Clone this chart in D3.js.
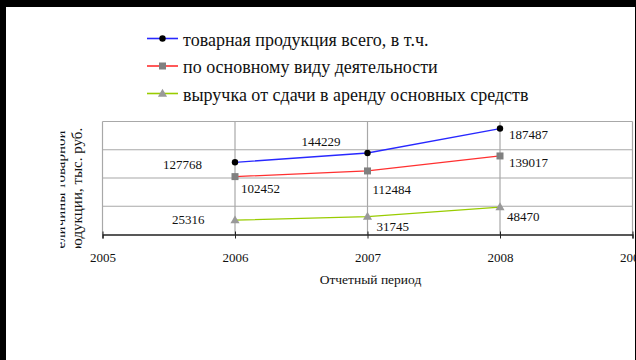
<!DOCTYPE html>
<html><head><meta charset="utf-8">
<script src="https://cdn.jsdelivr.net/npm/d3@7"></script>
<style>html,body{margin:0;padding:0;background:#000;}svg{display:block;}</style>
</head><body>
<script>
const years = [2006, 2007, 2008];
const seriesNames = ["товарная продукция всего, в т.ч.", "по основному виду деятельности", "выручка от сдачи в аренду основных средств"];
const totalValues = [127768, 144229, 187487];
const mainValues = [102452, 112484, 139017];
const rentValues = [25316, 31745, 48470];
const xTicks = [2005, 2006, 2007, 2008, 2009];
const yTicks = [0, 50000, 100000, 150000, 200000];
const xTitle = "Отчетный период";
const yTitleLines = ["Величины товарной", "продукции, тыс. руб."];

// label offsets relative to each point (layout only)
const labelOffsets = [
  [[-72, 7], [-66, -7], [9, 10]],
  [[6, 16], [5, 23], [9, 11]],
  [[-63, 4], [9, 14], [7, 14]]
];

const W = 636, H = 360;
const svg = d3.select("body").append("svg").attr("width", W).attr("height", H);
svg.append("rect").attr("x", 0).attr("y", 0).attr("width", W).attr("height", H).attr("fill", "#000");
svg.append("rect").attr("x", 6).attr("y", 7).attr("width", 629).attr("height", 353).attr("fill", "#fff");

const serif = "'Liberation Serif', 'Times New Roman', serif";
const plot = {l: 102.5, r: 632.5, t: 121.5, b: 234.5};
const x = d3.scaleLinear().domain([2005, 2009]).range([plot.l, plot.r]);
const y = d3.scaleLinear().domain([0, 200000]).range([plot.b, plot.t]);

const series = [
  {name: seriesNames[0], values: totalValues, color: "#2828ff", marker: "circle"},
  {name: seriesNames[1], values: mainValues, color: "#ff3030", marker: "square"},
  {name: seriesNames[2], values: rentValues, color: "#99cc00", marker: "triangle"}
];

// gridlines
const g = svg.append("g");
g.selectAll("line.hg").data(yTicks.filter(d => d > 0)).enter().append("line")
  .attr("x1", plot.l).attr("x2", plot.r).attr("y1", d => y(d)).attr("y2", d => y(d))
  .attr("stroke", "#a8a8a8").attr("stroke-width", 1.2);
g.selectAll("line.vg").data(xTicks).enter().append("line")
  .attr("x1", d => x(d)).attr("x2", d => x(d)).attr("y1", plot.t).attr("y2", plot.b)
  .attr("stroke", "#a8a8a8").attr("stroke-width", 1.2);

// x axis
const xAxis = d3.axisBottom(x).tickValues(xTicks).tickFormat(d3.format("d")).tickSize(4).tickPadding(14);
const ax = svg.append("g").attr("transform", `translate(0,${plot.b})`).call(xAxis);
ax.select(".domain").attr("stroke", "#222").attr("stroke-width", 1.3);
ax.selectAll(".tick line").attr("stroke", "#222").attr("y1", -3).attr("y2", 4);
ax.selectAll(".tick text").attr("font-family", serif).attr("font-size", 13).attr("fill", "#111");

// lines
const line = d3.line().x((d, i) => x(years[i])).y(d => y(d));
series.forEach(s => {
  svg.append("path").attr("d", line(s.values)).attr("fill", "none")
    .attr("stroke", s.color).attr("stroke-width", 1.3);
});

function drawMarker(sel, type, cx, cy) {
  if (type === "circle") {
    sel.append("circle").attr("cx", cx).attr("cy", cy).attr("r", 3.2).attr("fill", "#000");
  } else if (type === "square") {
    sel.append("rect").attr("x", cx - 3.5).attr("y", cy - 3.5).attr("width", 7).attr("height", 7).attr("fill", "#808080");
  } else {
    sel.append("path").attr("d", d3.symbol(d3.symbolTriangle, 36)()).attr("transform", `translate(${cx},${cy + 0.5})`).attr("fill", "#999");
  }
}

series.forEach((s, si) => {
  s.values.forEach((v, i) => {
    drawMarker(svg, s.marker, x(years[i]), y(v));
    const [dx, dy] = labelOffsets[si][i];
    svg.append("text").attr("x", x(years[i]) + dx).attr("y", y(v) + dy)
      .attr("font-family", serif).attr("font-size", 13).attr("fill", "#111").text(v);
  });
});

// x title
svg.append("text").attr("x", (plot.l + plot.r) / 2 + 3).attr("y", 284).attr("text-anchor", "middle")
  .attr("font-family", serif).attr("font-size", 13.5).attr("fill", "#111").text(xTitle);

// y title (clipped as in the original)
const defs = svg.append("defs");
defs.append("clipPath").attr("id", "yclip").append("rect").attr("x", 60.5).attr("y", 126).attr("width", 38).attr("height", 122);
const yt = svg.append("g").attr("clip-path", "url(#yclip)");
yTitleLines.forEach((t, i) => {
  yt.append("text").attr("transform", `translate(${65 + i * 17},194.5) rotate(-90)`).attr("text-anchor", "middle")
    .attr("font-family", serif).attr("font-size", 15).attr("fill", "#111").text(t);
});

// legend
const legendY = [38.5, 66, 93.5];
series.forEach((s, i) => {
  const lg = svg.append("g");
  lg.append("line").attr("x1", 147).attr("x2", 178).attr("y1", legendY[i]).attr("y2", legendY[i])
    .attr("stroke", s.color).attr("stroke-width", 1.6);
  drawMarker(lg, s.marker, 162.5, legendY[i]);
  lg.append("text").attr("x", 183).attr("y", legendY[i] + 7).attr("font-family", serif)
    .attr("font-size", 18).attr("fill", "#111").text(s.name);
});
</script>
</body></html>
